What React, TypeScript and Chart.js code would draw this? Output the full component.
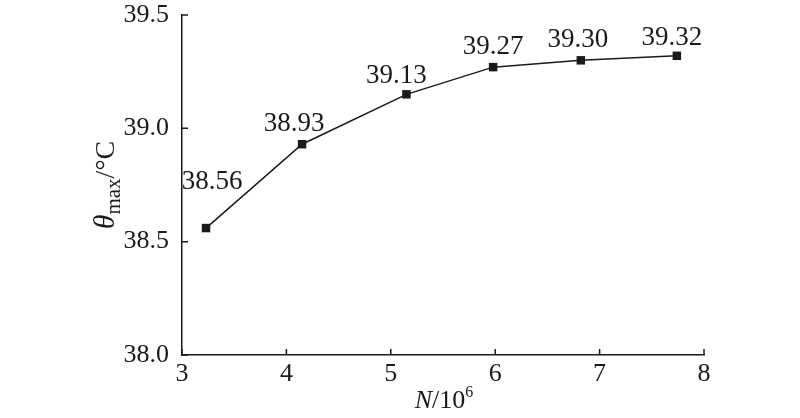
import React, { useEffect, useRef } from "react";
import { Chart, registerables } from "chart.js";

Chart.register(...registerables);

const xValues = [3.23, 4.15, 5.15, 5.98, 6.82, 7.74];
const yValues = [38.56, 38.93, 39.15, 39.27, 39.30, 39.32];
const pointLabels = ["38.56", "38.93", "39.13", "39.27", "39.30", "39.32"];
const xTicks = [3, 4, 5, 6, 7, 8];
const yTicks = [38.0, 38.5, 39.0, 39.5];

const FONT = "'Liberation Serif', serif";
const INK = "#1a1a1a";

const labelOffsets: Array<[number, number]> = [
  [6, 39],
  [-8, 13],
  [-10, 11],
  [0, 13],
  [-3, 13],
  [-5, 11],
];

function drawSegments(ctx: CanvasRenderingContext2D, segs: Array<{ t: string; font: string; dy: number }>, x: number, y: number) {
  let total = 0;
  for (const s of segs) {
    ctx.font = s.font;
    total += ctx.measureText(s.t).width;
  }
  let cx = x - total / 2;
  for (const s of segs) {
    ctx.font = s.font;
    ctx.fillText(s.t, cx, y + s.dy);
    cx += ctx.measureText(s.t).width;
  }
}

const customPlugin = {
  id: "custom",
  afterDraw(chart: any) {
    const ctx: CanvasRenderingContext2D = chart.ctx;
    const xs = chart.scales.x;
    const ys = chart.scales.y;
    const area = chart.chartArea;
    ctx.save();
    ctx.strokeStyle = INK;
    ctx.lineWidth = 1.5;
    ctx.beginPath();
    for (const v of xTicks) {
      const px = xs.getPixelForValue(v);
      ctx.moveTo(px, area.bottom);
      ctx.lineTo(px, area.bottom - 6);
    }
    for (const v of yTicks) {
      const py = ys.getPixelForValue(v);
      ctx.moveTo(area.left, py);
      ctx.lineTo(area.left + 6, py);
    }
    ctx.stroke();

    ctx.fillStyle = INK;
    ctx.textAlign = "center";
    ctx.textBaseline = "alphabetic";
    ctx.font = `27px ${FONT}`;
    const meta = chart.getDatasetMeta(0);
    meta.data.forEach((pt: any, i: number) => {
      const [dx, dy] = labelOffsets[i] || [0, 13];
      ctx.fillText(pointLabels[i], pt.x + dx, pt.y - dy);
    });

    ctx.textAlign = "left";
    drawSegments(
      ctx,
      [
        { t: "N", font: `italic 26px ${FONT}`, dy: 0 },
        { t: "/10", font: `26px ${FONT}`, dy: 0 },
        { t: "6", font: `16px ${FONT}`, dy: -11 },
      ],
      444,
      408
    );

    ctx.translate(114, 185);
    ctx.rotate(-Math.PI / 2);
    drawSegments(
      ctx,
      [
        { t: "θ", font: `italic 30px ${FONT}`, dy: 0 },
        { t: "max", font: `21px ${FONT}`, dy: 6 },
        { t: "/°C", font: `28px ${FONT}`, dy: 0 },
      ],
      0,
      0
    );
    ctx.restore();
  },
};

export default function App() {
  const ref = useRef<HTMLCanvasElement | null>(null);
  useEffect(() => {
    document.body.style.margin = "0";
    let chart: any = null;
    let cancelled = false;
    const build = () => {
      if (cancelled || !ref.current) return;
      chart = new Chart(ref.current, {
        type: "scatter",
        data: {
          datasets: [
            {
              data: xValues.map((x, i) => ({ x, y: yValues[i] })),
              showLine: true,
              borderColor: INK,
              borderWidth: 1.5,
              backgroundColor: INK,
              pointStyle: "rect",
              pointRadius: 6,
              pointBorderWidth: 0,
              pointBackgroundColor: INK,
            },
          ],
        },
        options: {
          animation: false,
          responsive: false,
          devicePixelRatio: 1,
          layout: { padding: { left: 0, right: 96, top: 15, bottom: 0 } },
          plugins: { legend: { display: false }, tooltip: { enabled: false } },
          scales: {
            x: {
              type: "linear",
              min: 3,
              max: 8,
              afterFit: (s: any) => {
                s.height = 63;
                s.paddingLeft = 0;
                s.paddingRight = 0;
              },
              afterBuildTicks: (s: any) => {
                s.ticks = xTicks.map((v) => ({ value: v }));
              },
              grid: { display: false, drawTicks: false },
              border: { display: true, color: INK, width: 1.5 },
              ticks: {
                color: INK,
                font: { family: FONT, size: 26 },
                padding: 4,
                maxRotation: 0,
                callback: (v: any) => String(v),
              },
            },
            y: {
              type: "linear",
              min: 38.0,
              max: 39.5,
              afterFit: (s: any) => {
                s.width = 182;
                s.paddingTop = 0;
                s.paddingBottom = 0;
              },
              afterBuildTicks: (s: any) => {
                s.ticks = yTicks.map((v) => ({ value: v }));
              },
              grid: { display: false, drawTicks: false },
              border: { display: true, color: INK, width: 1.5 },
              ticks: {
                color: INK,
                font: { family: FONT, size: 26 },
                padding: 13,
                callback: (v: any) => Number(v).toFixed(1),
              },
            },
          },
        },
        plugins: [customPlugin],
      } as any);
    };
    const fontsApi: any = (document as any).fonts;
    if (fontsApi && fontsApi.load) {
      Promise.all([
        fontsApi.load(`25px 'Liberation Serif'`),
        fontsApi.load(`italic 25px 'Liberation Serif'`),
      ])
        .catch(() => null)
        .then(build);
    } else {
      build();
    }
    return () => {
      cancelled = true;
      if (chart) chart.destroy();
    };
  }, []);
  return (
    <div style={{ position: "fixed", left: 0, top: 0, width: 800, height: 418, background: "#fff" }}>
      <canvas ref={ref} width={800} height={418} style={{ width: 800, height: 418 }} />
    </div>
  );
}
